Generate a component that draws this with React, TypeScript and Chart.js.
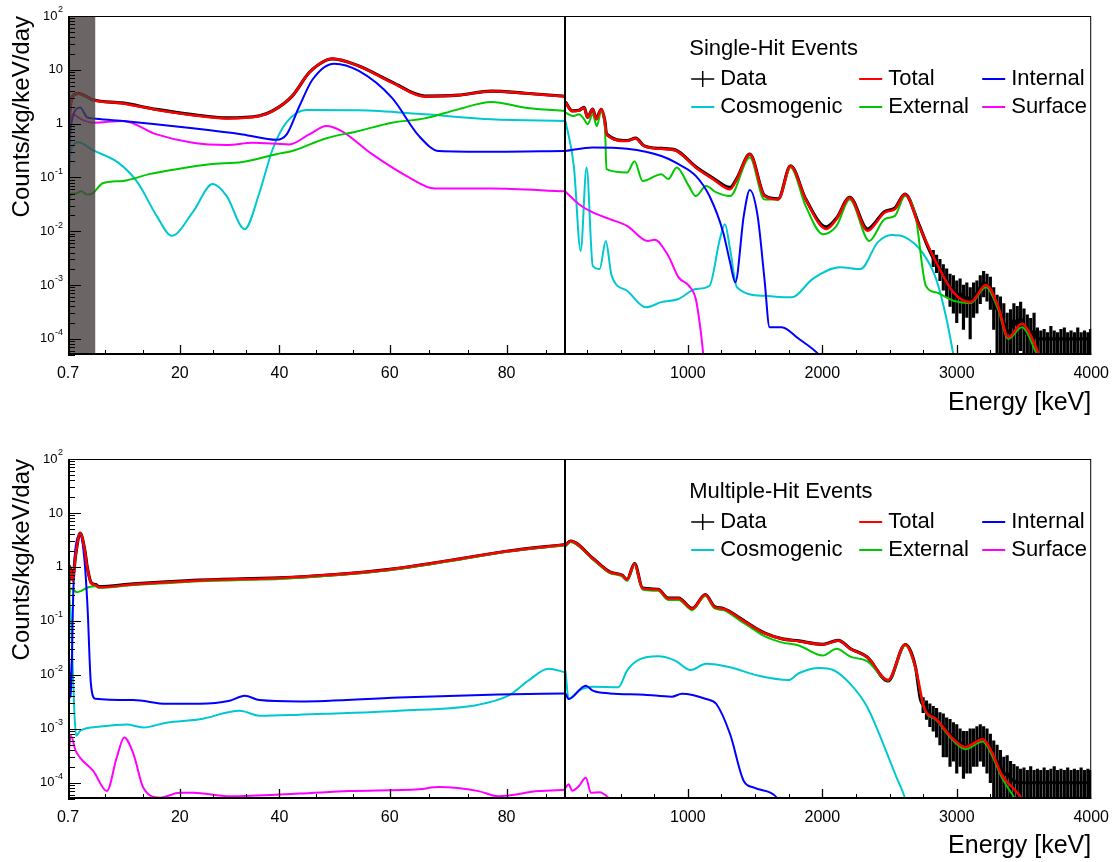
import React, { useEffect, useRef } from 'react';
import { Chart, registerables, LinearScale } from 'chart.js';

Chart.register(...registerables);

type Pt = [number, number];
type Tail = [number, number, number, number]; // energy, centre, low, high

// ---------- split energy axis ----------
const AXIS_KNOT_E = [0.7, 20, 40, 60, 80, 90, 4000];
const AXIS_KNOT_F = [0, 0.1093, 0.2067, 0.3144, 0.4286, 0.4862, 1];
const X_MIN = 0.7;
const X_MAX = 4000;
const X_BREAK = 90;
const X_TICKS = [0.7, 20, 40, 60, 80, 1000, 2000, 3000, 4000];
const X_TICK_LABELS = ['0.7', '20', '40', '60', '80', '1000', '2000', '3000', '4000'];
const X_MAJOR_MARKS = [20, 40, 60, 80, 1000, 2000, 3000];
const X_MINOR_MARKS = [7.13, 13.57, 26.67, 33.33, 46.67, 53.33, 66.67, 73.33, 86.67,
  250, 500, 750, 1250, 1500, 1750, 2250, 2500, 2750, 3250, 3500, 3750];
const Y_MIN = 5e-5;
const Y_MAX = 100;
const Y_DECADES = [-4, -3, -2, -1, 0, 1, 2];
const GRAY_BAND = [0.7, 5.4];

// ---------- colours ----------
const C_DATA = '#000000';
const C_TOTAL = '#ff0000';
const C_INTERNAL = '#0000ff';
const C_COSMO = '#00c8d0';
const C_EXTERNAL = '#00c800';
const C_SURFACE = '#ff00ff';

// ---------- Single-hit events ----------
const singleTotalLo: Pt[] = [[0.7, 0.4], [1.0, 1.6], [1.5, 3.2], [2.5, 3.6], [3.5, 3.3], [5, 2.75], [10, 2.4], [16, 1.8], [22.6, 1.43], [29.4, 1.25], [36, 1.38], [38.6, 1.71], [42.3, 3.25], [45.4, 8.9], [48.4, 15], [49.6, 16], [54.4, 11.7], [60.4, 5.8], [66, 3.2], [71.7, 3.35], [77.4, 4.0], [83.2, 3.65], [90, 3.2]];
const singleTotalHi: Pt[] = [[90, 2.5], [139, 1.71], [190, 1.75], [229, 1.98], [254, 1.29], [293, 1.84], [318, 1.2], [356, 1.84], [383, 1.1], [395, 0.63], [548, 0.475], [612, 0.53], [676, 0.38], [803, 0.34], [905, 0.32], [1059, 0.153], [1187, 0.093], [1314, 0.06], [1365, 0.093], [1461, 0.27], [1570, 0.045], [1672, 0.039], [1764, 0.163], [1876, 0.039], [2030, 0.011], [2106, 0.0168], [2204, 0.042], [2336, 0.0102], [2464, 0.0223], [2540, 0.0257], [2615, 0.0488], [2719, 0.0126], [2847, 0.00264], [2975, 0.00073], [3102, 0.00048], [3217, 0.001], [3307, 0.00041], [3383, 0.000107], [3485, 0.00019], [3562, 0.0001], [3613, 0.00005], [3700, 0.00002]];
const singleInternalLo: Pt[] = [[0.7, 0.1], [1.2, 0.9], [2.8, 2.0], [4.0, 1.31], [5, 1.25], [10.2, 1.12], [22.6, 0.82], [32.6, 0.63], [39.4, 0.5], [41.3, 0.63], [43.6, 2.1], [46, 6.6], [49.9, 13], [54.4, 9.5], [60.4, 3.0], [65, 0.59], [68.4, 0.31], [77.4, 0.3], [90, 0.31]];
const singleInternalHi: Pt[] = [[90, 0.31], [293, 0.36], [548, 0.34], [803, 0.25], [931, 0.176], [1059, 0.107], [1161, 0.045], [1263, 0.0095], [1314, 0.00264], [1353, 0.00112], [1416, 0.0193], [1461, 0.0586], [1519, 0.0193], [1570, 0.00129], [1608, 0.000164], [1697, 0.000164], [1825, 0.0001], [1978, 0.00005], [2100, 0.00002]];
const singleCosmoLo: Pt[] = [[0.7, 0.04], [1.0, 0.2], [1.6, 0.4], [2.5, 0.45], [5, 0.32], [9.3, 0.19], [12.7, 0.081], [16, 0.0193], [18.6, 0.0082], [22.6, 0.0226], [26.6, 0.075], [29.4, 0.045], [33, 0.0109], [36, 0.053], [38.6, 0.33], [41.3, 1.06], [44.9, 1.79], [54.4, 1.77], [66, 1.49], [77.4, 1.2], [90, 1.12]];
const singleCosmoHi: Pt[] = [[90, 1.12], [152, 0.163], [203, 0.0043], [247, 0.153], [293, 0.00228], [344, 0.00198], [390, 0.0066], [433, 0.00149], [548, 0.00078], [688, 0.000386], [803, 0.00048], [931, 0.00055], [1059, 0.00084], [1161, 0.00097], [1238, 0.0071], [1276, 0.0135], [1314, 0.00466], [1365, 0.00091], [1570, 0.00063], [1774, 0.00059], [1927, 0.00129], [2132, 0.00213], [2284, 0.00198], [2412, 0.0062], [2515, 0.0085], [2617, 0.0077], [2744, 0.00404], [2847, 0.00129], [2924, 0.000234], [2975, 0.00005], [3020, 0.00001]];
const singleExternalLo: Pt[] = [[0.7, 0.0015], [1.0, 0.04], [1.3, 0.05], [2, 0.05], [3, 0.055], [4, 0.048], [5, 0.051], [6.7, 0.078], [10.2, 0.086], [14.7, 0.115], [19.4, 0.142], [26, 0.176], [32.6, 0.194], [39.4, 0.27], [42.3, 0.31], [48.4, 0.53], [54.4, 0.73], [60.4, 1.04], [66, 1.25], [71.7, 1.84], [77.4, 2.52], [83.2, 1.98], [90, 1.71]];
const singleExternalHi: Pt[] = [[90, 1.6], [152, 1.38], [190, 1.49], [229, 1.2], [254, 0.97], [293, 1.49], [323, 0.9], [356, 1.71], [383, 0.9], [395, 0.142], [548, 0.123], [604, 0.2], [663, 0.086], [803, 0.115], [854, 0.093], [918, 0.153], [1007, 0.0695], [1059, 0.045], [1136, 0.0695], [1212, 0.0525], [1314, 0.045], [1461, 0.234], [1570, 0.039], [1672, 0.039], [1764, 0.153], [1876, 0.0296], [2004, 0.0088], [2106, 0.0126], [2204, 0.039], [2349, 0.0066], [2464, 0.0168], [2540, 0.0193], [2615, 0.045], [2693, 0.0193], [2770, 0.00097], [2847, 0.00073], [2975, 0.00051], [3102, 0.00046], [3217, 0.00091], [3307, 0.00036], [3383, 0.0001], [3485, 0.000164], [3600, 0.00005], [3700, 0.00002]];
const singleSurfaceLo: Pt[] = [[0.7, 0.3], [1.0, 0.9], [1.5, 1.49], [3, 1.2], [5, 1.04], [10.2, 1.12], [16, 0.63], [22.6, 0.44], [29.4, 0.4], [34.6, 0.44], [41.8, 0.41], [45.4, 0.63], [48.5, 0.9], [51.2, 0.73], [56.8, 0.27], [63.3, 0.1], [67.7, 0.062], [77.4, 0.062], [90, 0.055]];
const singleSurfaceHi: Pt[] = [[90, 0.054], [190, 0.0318], [293, 0.0223], [420, 0.0168], [548, 0.0126], [702, 0.0066], [753, 0.0069], [854, 0.0035], [931, 0.00139], [1007, 0.00097], [1059, 0.00055], [1097, 0.000132], [1115, 0.00005], [1140, 0.00001]];
const singleDataLo: Pt[] = [[0.7, 0.42], [1.0, 1.65], [1.5, 3.25], [2.5, 3.65], [3.5, 3.35], [5, 2.78], [10, 2.42], [16, 1.84], [22.6, 1.47], [29.4, 1.28], [36, 1.4], [38.6, 1.72], [42.3, 3.25], [45.4, 8.9], [48.4, 15], [49.6, 16], [54.4, 11.8], [60.4, 5.9], [66, 3.25], [71.7, 3.38], [77.4, 4.02], [83.2, 3.67], [90, 3.22]];
const singleDataHi: Pt[] = [[90, 2.52], [139, 1.73], [190, 1.77], [229, 2.0], [254, 1.31], [293, 1.86], [318, 1.22], [356, 1.85], [383, 1.11], [395, 0.64], [548, 0.485], [612, 0.535], [676, 0.385], [803, 0.345], [905, 0.325], [1059, 0.157], [1187, 0.097], [1314, 0.065], [1365, 0.096], [1461, 0.27], [1570, 0.046], [1672, 0.04], [1764, 0.164], [1876, 0.04], [2030, 0.012], [2106, 0.0175], [2204, 0.0425], [2336, 0.011], [2464, 0.0232], [2540, 0.027], [2615, 0.049], [2719, 0.0132], [2790, 0.0048]];
const singleTail: Tail[] = [
  [2825, 3.2e-3, 2.2e-3, 4.4e-3], [2850, 2.6e-3, 1.7e-3, 3.6e-3], [2875, 2.0e-3, 1.2e-3, 3.0e-3], [2900, 1.5e-3, 8e-4, 2.4e-3],
  [2925, 1.2e-3, 6e-4, 2.0e-3], [2950, 9e-4, 4e-4, 1.6e-3], [2975, 8e-4, 3e-4, 1.5e-3], [3000, 6e-4, 2e-4, 1.2e-3],
  [3025, 7e-4, 3e-4, 1.3e-3], [3050, 5e-4, 1.5e-4, 1.0e-3], [3075, 6e-4, 2.5e-4, 1.1e-3], [3100, 4.5e-4, 1e-4, 9e-4],
  [3125, 6e-4, 2.5e-4, 1.1e-3], [3150, 7e-4, 3e-4, 1.2e-3], [3175, 9e-4, 4.5e-4, 1.5e-3], [3200, 1.1e-3, 6e-4, 1.8e-3],
  [3225, 1.0e-3, 5e-4, 1.6e-3], [3250, 8e-4, 3.5e-4, 1.4e-3], [3275, 5e-4, 1.5e-4, 9e-4], [3300, 3.5e-4, 1e-5, 6.5e-4],
  [3325, 3e-4, 1e-5, 6e-4], [3350, 2e-4, 1e-5, 4.5e-4], [3375, 1.3e-4, 1e-5, 3e-4], [3400, 1.5e-4, 1e-5, 3.5e-4],
  [3425, 2.2e-4, 5e-5, 4.5e-4], [3450, 1.8e-4, 1e-5, 4e-4], [3475, 2.4e-4, 6e-5, 4.8e-4], [3500, 1.6e-4, 1e-5, 3.6e-4],
  [3525, 1.2e-4, 1e-5, 2.8e-4], [3550, 1.1e-4, 1e-5, 2.4e-4], [3575, 1.4e-4, 1e-5, 3e-4], [3600, 1.0e-4, 1e-5, 1.6e-4],
  [3625, 1.0e-4, 1e-5, 1.4e-4], [3650, 1.0e-4, 1e-5, 1.5e-4], [3675, 1.0e-4, 1e-5, 1.3e-4], [3700, 1.0e-4, 1e-5, 1.7e-4],
  [3725, 1.0e-4, 1e-5, 1.4e-4], [3750, 1.0e-4, 1e-5, 1.3e-4], [3775, 1.0e-4, 1e-5, 1.5e-4], [3800, 1.0e-4, 1e-5, 1.6e-4],
  [3825, 1.0e-4, 1e-5, 1.3e-4], [3850, 1.0e-4, 1e-5, 1.4e-4], [3875, 1.0e-4, 1e-5, 1.3e-4], [3900, 1.0e-4, 1e-5, 1.6e-4],
  [3925, 1.0e-4, 1e-5, 1.3e-4], [3950, 1.0e-4, 1e-5, 1.4e-4], [3975, 1.0e-4, 1e-5, 1.3e-4], [3995, 1.0e-4, 1e-5, 1.5e-4]];

// ---------- Multiple-hit events ----------
const multiTotalLo: Pt[] = [[0.7, 0.2], [1.0, 1.0], [1.5, 0.56], [2.0, 1.6], [2.8, 4.2], [3.6, 2.0], [4.0, 1.0], [4.7, 0.5], [5.5, 0.46], [6.0, 0.42], [12, 0.475], [17.7, 0.52], [24, 0.56], [34, 0.6], [40, 0.62], [50, 0.72], [60, 0.9], [70, 1.3], [80, 1.95], [90, 2.6]];
const multiTotalHi: Pt[] = [[90, 2.52], [127, 2.99], [293, 1.43], [420, 0.8], [510, 0.7], [548, 0.58], [604, 1.15], [663, 0.4], [778, 0.38], [854, 0.26], [931, 0.26], [1033, 0.168], [1130, 0.305], [1199, 0.18], [1263, 0.168], [1391, 0.109], [1480, 0.0787], [1570, 0.059], [1697, 0.0465], [1825, 0.042], [2004, 0.0364], [2119, 0.0432], [2208, 0.0303], [2336, 0.0211], [2489, 0.008], [2617, 0.0364], [2693, 0.0138], [2757, 0.00249], [2847, 0.00151], [2975, 0.00064], [3064, 0.00046], [3192, 0.00064], [3268, 0.00034], [3332, 0.000144], [3485, 0.00005], [3560, 0.00002]];
const multiInternalLo: Pt[] = [[0.7, 0.1], [0.9, 0.02], [1.2, 0.0038], [1.6, 0.3], [1.95, 2.0], [2.8, 3.8], [3.5, 1.5], [4.07, 0.18], [4.65, 0.0068], [5.4, 0.0036], [12, 0.0034], [17.7, 0.0029], [24, 0.0029], [30, 0.0033], [33, 0.0041], [36, 0.0034], [43.6, 0.0032], [61.6, 0.0038], [78.6, 0.0043], [90, 0.0045]];
const multiInternalHi: Pt[] = [[90, 0.00453], [113, 0.00356], [241, 0.0063], [293, 0.0051], [420, 0.00453], [676, 0.00429], [880, 0.00394], [956, 0.00445], [1136, 0.00356], [1212, 0.00288], [1314, 0.0008], [1416, 0.000108], [1493, 0.000081], [1672, 0.00005], [1750, 0.00002]];
const multiCosmoLo: Pt[] = [[0.7, 0.1], [1.0, 0.25], [1.4, 0.03], [1.8, 0.002], [2.1, 0.00074], [2.8, 0.00092], [6.3, 0.0011], [10.8, 0.0012], [13.7, 0.00106], [17.7, 0.0013], [24, 0.0015], [32, 0.00216], [36, 0.00175], [43.6, 0.00183], [61.6, 0.00216], [75.2, 0.0028], [80.3, 0.0041], [83.7, 0.0078], [87.1, 0.013], [90, 0.0111]];
const multiCosmoHi: Pt[] = [[90, 0.0119], [113, 0.0036], [190, 0.0051], [293, 0.006], [484, 0.0059], [548, 0.012], [624, 0.0184], [778, 0.0221], [905, 0.0184], [1021, 0.0123], [1136, 0.016], [1314, 0.0138], [1519, 0.0097], [1748, 0.008], [1825, 0.0107], [1978, 0.0134], [2081, 0.0123], [2208, 0.0068], [2336, 0.00249], [2464, 0.00045], [2553, 0.000124], [2617, 0.00005], [2680, 0.00001]];
const multiExternalLo: Pt[] = [[0.7, 0.01], [0.85, 0.15], [1.2, 0.4], [2.25, 0.34], [3.0, 0.36], [4.2, 0.42], [5.5, 0.44], [6, 0.41], [12, 0.46], [17.7, 0.5], [24, 0.54], [34, 0.58], [40, 0.6], [50, 0.7], [60, 0.87], [70, 1.26], [80, 1.9], [90, 2.52]];
const multiExternalHi: Pt[] = [[90, 2.4], [127, 2.9], [293, 1.38], [420, 0.77], [510, 0.67], [548, 0.55], [604, 1.1], [663, 0.38], [778, 0.36], [854, 0.245], [931, 0.245], [1033, 0.158], [1130, 0.29], [1199, 0.17], [1263, 0.158], [1391, 0.1], [1480, 0.072], [1570, 0.052], [1697, 0.04], [1825, 0.035], [2004, 0.0228], [2106, 0.0303], [2208, 0.0218], [2336, 0.0178], [2489, 0.0078], [2617, 0.035], [2693, 0.0132], [2757, 0.0024], [2847, 0.00145], [2975, 0.0006], [3064, 0.00042], [3192, 0.00058], [3268, 0.0003], [3332, 0.00013], [3433, 0.00005], [3520, 0.00002]];
const multiSurfaceLo: Pt[] = [[0.7, 0.00008], [0.75, 0.00015], [1.2, 0.00074], [2.0, 0.0004], [2.8, 0.00029], [5.05, 0.000166], [7.4, 0.00007], [9.1, 0.00029], [10.4, 0.00069], [12, 0.00034], [13.7, 0.000081], [16.6, 0.000053], [20, 0.000065], [22.6, 0.000065], [30, 0.000056], [43.6, 0.000063], [52.6, 0.00007], [65, 0.000076], [68.4, 0.000083], [75.2, 0.00007], [78.6, 0.000056], [85.4, 0.00007], [90, 0.000074]];
const multiSurfaceHi: Pt[] = [[90, 0.000081], [113, 0.000094], [140, 0.000071], [190, 0.000087], [241, 0.000124], [280, 0.000065], [344, 0.000067], [420, 0.00005], [500, 0.00003]];
const multiDataLo: Pt[] = [[0.7, 0.21], [1.0, 1.02], [1.5, 0.58], [2.0, 1.63], [2.8, 4.25], [3.6, 2.03], [4.0, 1.02], [4.7, 0.51], [5.5, 0.47], [6, 0.43], [12, 0.485], [17.7, 0.53], [24, 0.57], [34, 0.61], [40, 0.625], [50, 0.72], [60, 0.9], [70, 1.3], [80, 1.95], [90, 2.6]];
const multiDataHi: Pt[] = [[90, 2.53], [127, 3.0], [293, 1.44], [420, 0.805], [510, 0.705], [548, 0.585], [604, 1.15], [663, 0.405], [778, 0.385], [854, 0.265], [931, 0.265], [1033, 0.17], [1130, 0.307], [1199, 0.183], [1263, 0.17], [1391, 0.111], [1480, 0.08], [1570, 0.06], [1697, 0.047], [1825, 0.0425], [2004, 0.0368], [2119, 0.0436], [2208, 0.0307], [2336, 0.0211], [2489, 0.0077], [2617, 0.0362], [2693, 0.0139], [2730, 0.0035]];
const multiTail: Tail[] = [
  [2750, 2.8e-3, 2.0e-3, 3.8e-3], [2775, 2.3e-3, 1.5e-3, 3.3e-3], [2800, 1.9e-3, 1.1e-3, 2.9e-3], [2825, 1.7e-3, 9e-4, 2.6e-3],
  [2850, 1.5e-3, 7e-4, 2.4e-3], [2875, 1.2e-3, 5e-4, 2.0e-3], [2900, 1.1e-3, 3e-4, 1.9e-3], [2925, 9e-4, 3e-4, 1.6e-3],
  [2950, 8e-4, 2e-4, 1.5e-3], [2975, 7e-4, 2.5e-4, 1.3e-3], [3000, 6e-4, 1.5e-4, 1.2e-3], [3025, 5.5e-4, 2e-4, 1.0e-3],
  [3050, 5e-4, 1.2e-4, 9e-4], [3075, 4.5e-4, 1.5e-4, 9e-4], [3100, 5e-4, 1.5e-4, 1.0e-3], [3125, 5.5e-4, 2e-4, 1.0e-3],
  [3150, 6e-4, 2e-4, 1.1e-3], [3175, 6.5e-4, 2.5e-4, 1.2e-3], [3200, 6e-4, 2e-4, 1.1e-3], [3225, 5.5e-4, 1.5e-4, 1.0e-3],
  [3250, 4.5e-4, 1e-4, 8e-4], [3275, 3e-4, 1e-5, 6e-4], [3300, 2.5e-4, 1e-5, 5e-4], [3325, 2e-4, 1e-5, 4e-4],
  [3350, 1.4e-4, 1e-5, 3e-4], [3375, 1.5e-4, 1e-5, 3.2e-4], [3400, 1.2e-4, 1e-5, 2.5e-4], [3425, 1.1e-4, 1e-5, 2.2e-4],
  [3450, 1.0e-4, 1e-5, 2.0e-4], [3475, 1.0e-4, 1e-5, 1.8e-4], [3500, 1.0e-4, 1e-5, 1.9e-4], [3525, 1.0e-4, 1e-5, 1.7e-4],
  [3550, 1.0e-4, 1e-5, 2.0e-4], [3575, 1.0e-4, 1e-5, 1.7e-4], [3600, 1.0e-4, 1e-5, 1.8e-4], [3625, 1.0e-4, 1e-5, 1.7e-4],
  [3650, 1.0e-4, 1e-5, 1.9e-4], [3675, 1.0e-4, 1e-5, 1.7e-4], [3700, 1.0e-4, 1e-5, 1.8e-4], [3725, 1.0e-4, 1e-5, 2.0e-4],
  [3750, 1.0e-4, 1e-5, 1.7e-4], [3775, 1.0e-4, 1e-5, 1.8e-4], [3800, 1.0e-4, 1e-5, 1.7e-4], [3825, 1.0e-4, 1e-5, 1.9e-4],
  [3850, 1.0e-4, 1e-5, 1.7e-4], [3875, 1.0e-4, 1e-5, 1.8e-4], [3900, 1.0e-4, 1e-5, 1.7e-4], [3925, 1.0e-4, 1e-5, 1.9e-4],
  [3950, 1.0e-4, 1e-5, 1.7e-4], [3975, 1.0e-4, 1e-5, 1.8e-4], [3995, 1.0e-4, 1e-5, 1.7e-4]];

// ---------- legend ----------
const LEGEND_ROWS = [['Data', 'Total', 'Internal'], ['Cosmogenic', 'External', 'Surface']];
const LEGEND_COLORS: Record<string, string> = {
  Data: C_DATA, Total: C_TOTAL, Internal: C_INTERNAL, Cosmogenic: C_COSMO, External: C_EXTERNAL, Surface: C_SURFACE,
};

const FONT = '"Liberation Sans", Arial, Helvetica, sans-serif';

// ---------- helpers ----------
function energyToFrac(e: number): number {
  const E = AXIS_KNOT_E, F = AXIS_KNOT_F;
  if (e <= E[0]) return F[0] + (e - E[0]) / (E[1] - E[0]) * (F[1] - F[0]);
  for (let i = 1; i < E.length; i++) {
    if (e <= E[i]) return F[i - 1] + (e - E[i - 1]) / (E[i] - E[i - 1]) * (F[i] - F[i - 1]);
  }
  const n = E.length - 1;
  return F[n] + (e - E[n]) / (E[n] - E[n - 1]) * (F[n] - F[n - 1]);
}
function fracToEnergy(f: number): number {
  const E = AXIS_KNOT_E, F = AXIS_KNOT_F;
  for (let i = 1; i < F.length; i++) {
    if (f <= F[i] || i === F.length - 1) return E[i - 1] + (f - F[i - 1]) / (F[i] - F[i - 1]) * (E[i] - E[i - 1]);
  }
  return E[E.length - 1];
}

class SplitEnergyScale extends LinearScale {
  static id = 'splitEnergy';
  static defaults = {};
  getPixelForValue(value: number) {
    return this.getPixelForDecimal(energyToFrac(value));
  }
  getValueForPixel(pixel: number) {
    return fracToEnergy(this.getDecimalForPixel(pixel));
  }
}
Chart.register(SplitEnergyScale as any);

function lineDs(label: string, pts: Pt[], color: string, width: number, order: number) {
  return {
    type: 'line', label, data: pts.map(([x, y]) => ({ x, y })),
    borderColor: color, backgroundColor: color, borderWidth: width,
    pointRadius: 0, pointHoverRadius: 0, cubicInterpolationMode: 'monotone', fill: false, order,
  };
}

interface PanelSpec {
  title: string;
  band: boolean;
  series: { label: string; lo: Pt[]; hi: Pt[]; color: string; width: number; order: number }[];
  dataLo: Pt[];
  dataHi: Pt[];
  tail: Tail[];
}

const SINGLE: PanelSpec = {
  title: 'Single-Hit Events', band: true,
  series: [
    { label: 'Total', lo: singleTotalLo, hi: singleTotalHi, color: C_TOTAL, width: 2.5, order: 1 },
    { label: 'Internal', lo: singleInternalLo, hi: singleInternalHi, color: C_INTERNAL, width: 2, order: 2 },
    { label: 'External', lo: singleExternalLo, hi: singleExternalHi, color: C_EXTERNAL, width: 2, order: 3 },
    { label: 'Surface', lo: singleSurfaceLo, hi: singleSurfaceHi, color: C_SURFACE, width: 2, order: 4 },
    { label: 'Cosmogenic', lo: singleCosmoLo, hi: singleCosmoHi, color: C_COSMO, width: 2, order: 5 },
  ],
  dataLo: singleDataLo, dataHi: singleDataHi, tail: singleTail,
};
const MULTI: PanelSpec = {
  title: 'Multiple-Hit Events', band: false,
  series: [
    { label: 'Total', lo: multiTotalLo, hi: multiTotalHi, color: C_TOTAL, width: 2.5, order: 1 },
    { label: 'Internal', lo: multiInternalLo, hi: multiInternalHi, color: C_INTERNAL, width: 2, order: 2 },
    { label: 'External', lo: multiExternalLo, hi: multiExternalHi, color: C_EXTERNAL, width: 2, order: 3 },
    { label: 'Surface', lo: multiSurfaceLo, hi: multiSurfaceHi, color: C_SURFACE, width: 2, order: 4 },
    { label: 'Cosmogenic', lo: multiCosmoLo, hi: multiCosmoHi, color: C_COSMO, width: 2, order: 5 },
  ],
  dataLo: multiDataLo, dataHi: multiDataHi, tail: multiTail,
};

function drawYLabel(ctx: CanvasRenderingContext2D, n: number, right: number, y: number) {
  const base = n === 0 ? '1' : '10';
  const sup = n === 0 || n === 1 ? '' : String(n);
  ctx.font = `9px ${FONT}`;
  const ws = sup ? ctx.measureText(sup).width + 0.5 : 0;
  ctx.font = `13px ${FONT}`;
  ctx.textAlign = 'right';
  ctx.textBaseline = 'middle';
  ctx.fillText(base, right - ws, y);
  if (sup) {
    ctx.font = `9px ${FONT}`;
    ctx.textAlign = 'left';
    ctx.fillText(sup, right - ws + 0.5, y - 6);
  }
}

function makeDecor(spec: PanelSpec) {
  return {
    id: 'rootDecor',
    afterDatasetsDraw(chart: any) {
      const { ctx, chartArea: a } = chart;
      const xs = chart.scales.x, ys = chart.scales.y;
      ctx.save();
      if (spec.band) {
        const x0 = xs.getPixelForValue(GRAY_BAND[0]);
        const x1 = xs.getPixelForValue(GRAY_BAND[1]);
        ctx.fillStyle = 'rgba(70,64,62,0.8)';
        ctx.fillRect(x0, a.top, x1 - x0, a.bottom - a.top);
      }
      ctx.strokeStyle = '#000';
      ctx.lineWidth = 1;
      ctx.strokeRect(a.left + 0.5, a.top + 0.5, a.right - a.left - 1, a.bottom - a.top - 1);
      ctx.lineWidth = 2;
      ctx.beginPath();
      ctx.moveTo(a.left + 1, a.top);
      ctx.lineTo(a.left + 1, a.bottom - 1);
      ctx.lineTo(a.right, a.bottom - 1);
      ctx.stroke();
      const xb = Math.round(xs.getPixelForValue(X_BREAK));
      ctx.beginPath();
      ctx.moveTo(xb, a.top);
      ctx.lineTo(xb, a.bottom);
      ctx.stroke();
      // x ticks (inward)
      ctx.lineWidth = 1.3;
      ctx.beginPath();
      for (const v of X_MAJOR_MARKS) {
        const px = Math.round(xs.getPixelForValue(v)) + 0.5;
        ctx.moveTo(px, a.bottom); ctx.lineTo(px, a.bottom - 10);
      }
      ctx.stroke();
      ctx.lineWidth = 1;
      ctx.beginPath();
      for (const v of X_MINOR_MARKS) {
        const px = Math.round(xs.getPixelForValue(v)) + 0.5;
        ctx.moveTo(px, a.bottom); ctx.lineTo(px, a.bottom - 5);
      }
      ctx.stroke();
      // y ticks (inward)
      ctx.beginPath();
      for (let n = -5; n <= 2; n++) {
        for (let k = 1; k <= 9; k++) {
          const v = k * Math.pow(10, n);
          if (v < Y_MIN || v > Y_MAX) continue;
          const py = Math.round(ys.getPixelForValue(v)) + 0.5;
          ctx.moveTo(a.left, py); ctx.lineTo(a.left + (k === 1 ? 13 : 7), py);
        }
      }
      ctx.stroke();
      // y labels
      ctx.fillStyle = '#000';
      for (const n of Y_DECADES) {
        drawYLabel(ctx, n, a.left - 5, ys.getPixelForValue(Math.pow(10, n)));
      }
      // legend
      ctx.font = `22px ${FONT}`;
      ctx.textAlign = 'left';
      ctx.textBaseline = 'middle';
      ctx.fillStyle = '#000';
      ctx.fillText(spec.title, a.right - 402, a.top + 33);
      const colDx = [-400, -232, -109];
      const rowDy = [63, 91];
      LEGEND_ROWS.forEach((row, r) => {
        row.forEach((label, c) => {
          const mx = a.right + colDx[c];
          const my = a.top + rowDy[r];
          if (label === 'Data') {
            ctx.strokeStyle = '#000';
            ctx.lineWidth = 1.5;
            ctx.beginPath();
            ctx.moveTo(mx, my); ctx.lineTo(mx + 23, my);
            ctx.moveTo(mx + 11.5, my - 8); ctx.lineTo(mx + 11.5, my + 8);
            ctx.stroke();
          } else {
            ctx.strokeStyle = LEGEND_COLORS[label];
            ctx.lineWidth = 2;
            ctx.beginPath();
            ctx.moveTo(mx, my); ctx.lineTo(mx + 23, my);
            ctx.stroke();
          }
          ctx.fillStyle = '#000';
          ctx.fillText(label, mx + 29, my);
        });
      });
      ctx.restore();
    },
  };
}

function buildConfig(spec: PanelSpec, padTop: number, xHeight: number, titlePadBottom: number) {
  const datasets: any[] = [];
  for (const s of spec.series) {
    datasets.push(lineDs(s.label, s.lo, s.color, s.width, s.order));
    datasets.push(lineDs(s.label, s.hi, s.color, s.width, s.order));
  }
  datasets.push(lineDs('Data', spec.dataLo, C_DATA, 3.2, 6));
  datasets.push(lineDs('Data', [...spec.dataHi, ...spec.tail.map((t) => [t[0], t[1]] as Pt)], C_DATA, 3.2, 6));
  datasets.push({
    type: 'bar', label: 'Data',
    data: spec.tail.map((t) => ({ x: t[0], y: [t[2], t[3]] })),
    backgroundColor: C_DATA, borderWidth: 0, barThickness: 2.5, grouped: false, order: 7,
  });
  return {
    type: 'line',
    data: { datasets },
    options: {
      animation: false,
      responsive: false,
      events: [],
      layout: { padding: { top: padTop, right: 23, left: 0, bottom: 0 } },
      plugins: { legend: { display: false }, tooltip: { enabled: false } },
      scales: {
        x: {
          type: 'splitEnergy', min: X_MIN, max: X_MAX, offset: false,
          grid: { display: false, drawTicks: false },
          border: { display: false },
          afterBuildTicks: (s: any) => { s.ticks = X_TICKS.map((v) => ({ value: v })); },
          afterFit: (s: any) => { s.height = xHeight; },
          ticks: {
            autoSkip: false, maxRotation: 0, padding: 9, color: '#000',
            font: { family: FONT, size: 16 },
            callback: (_v: any, i: number) => X_TICK_LABELS[i],
          },
          title: {
            display: true, text: 'Energy [keV]', align: 'end', color: '#000',
            font: { family: FONT, size: 25 }, padding: { top: 0, bottom: titlePadBottom },
          },
        },
        y: {
          type: 'logarithmic', min: Y_MIN, max: Y_MAX,
          grid: { display: false, drawTicks: false },
          border: { display: false },
          ticks: { display: false },
          afterFit: (s: any) => { s.width = 68; },
          title: {
            display: true, text: 'Counts/kg/keV/day', align: 'end', color: '#000',
            font: { family: FONT, size: 24 }, padding: { top: 8, bottom: 0 },
          },
        },
      },
    },
    plugins: [makeDecor(spec)],
  };
}

function Panel({ spec, height, padTop, xHeight, titlePadBottom }: { spec: PanelSpec; height: number; padTop: number; xHeight: number; titlePadBottom: number }) {
  const ref = useRef<HTMLCanvasElement>(null);
  useEffect(() => {
    if (!ref.current) return;
    const chart = new Chart(ref.current, buildConfig(spec, padTop, xHeight, titlePadBottom) as any);
    return () => chart.destroy();
  }, [spec, padTop, xHeight, titlePadBottom]);
  return <canvas ref={ref} width={1118} height={height} style={{ display: 'block', width: 1118, height }} />;
}

export default function App() {
  return (
    <div style={{ position: 'absolute', left: 0, top: 0, width: 1118, height: 862, background: '#fff' }}>
      <Panel spec={SINGLE} height={422} padTop={16} xHeight={67} titlePadBottom={4} />
      <Panel spec={MULTI} height={440} padTop={37} xHeight={63} titlePadBottom={1} />
    </div>
  );
}
